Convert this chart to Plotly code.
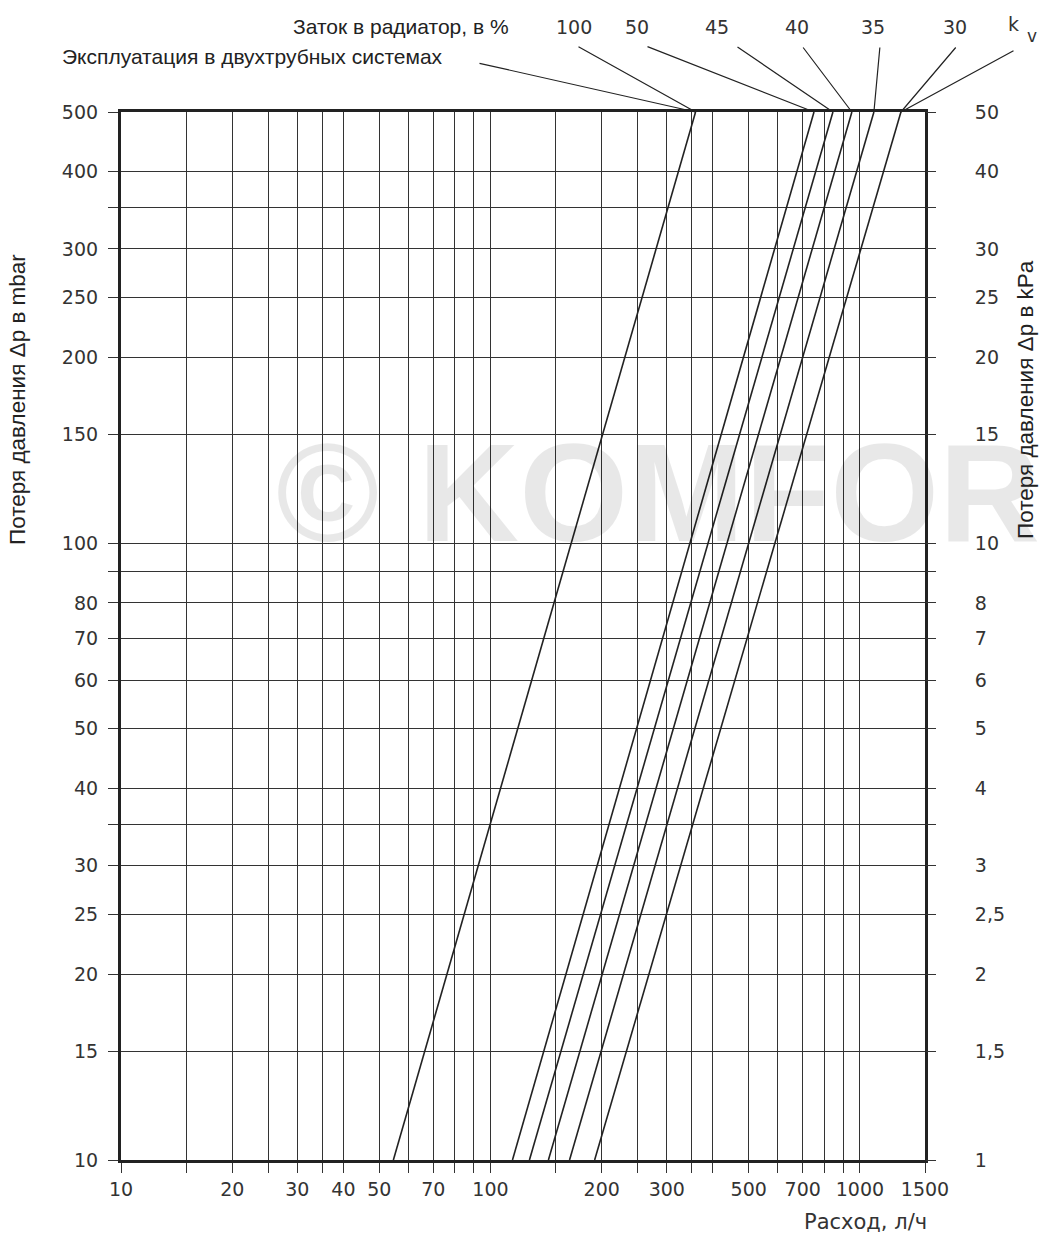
import numpy as np
import plotly.graph_objects as go

# ---- data ----
pressure_mbar = [10, 500]                      # line end points (Δp, mbar)
series_names = ["100", "50", "45", "40", "35", "30 / kv"]
flow_at_10 = [54.6, 114.7, 127.5, 143.5, 163.7, 191.4]     # l/h at 10 mbar
flow_at_500 = [359, 751, 845, 951, 1091, 1291]             # l/h at 500 mbar

x_grid = [10, 15, 20, 25, 30, 35, 40, 50, 60, 70, 80, 90, 100, 150, 200, 250,
          300, 350, 400, 500, 600, 700, 800, 900, 1000, 1500]
x_labels = ["10", "", "20", "", "30", "", "40", "50", "", "70", "", "", "100",
            "", "200", "", "300", "", "", "500", "", "700", "", "", "1000", "1500"]
y_grid = [10, 15, 20, 25, 30, 35, 40, 50, 60, 70, 80, 90, 100, 150, 200, 250,
          300, 350, 400, 500]
y_labels_mbar = ["10", "15", "20", "25", "30", "", "40", "50", "60", "70", "80",
                 "", "100", "150", "200", "250", "300", "", "400", "500"]
y_labels_kpa = ["1", "1,5", "2", "2,5", "3", "", "4", "5", "6", "7", "8",
                "", "10", "15", "20", "25", "30", "", "40", "50"]

top_labels = ["100", "50", "45", "40", "35", "30"]

W, H = 1041, 1233
L, R, T, B = 121, 925, 112, 1160
PW, PH = R - L, B - T


def px(x):
    return (x - L) / PW


def py(y):
    return (B - y) / PH


INK = "#222222"
GRID = "#333333"
TICKFONT = dict(family="DejaVu Sans", size=19, color="#333333")

fig = go.Figure()

# watermark
fig.add_annotation(text="<b>© KOMFORT</b>", xref="paper", yref="paper", x=px(274), y=py(492),
                   xanchor="left", yanchor="middle", showarrow=False,
                   font=dict(family="Liberation Sans", size=140, color="rgba(0,0,0,0.09)"))

for i, name in enumerate(series_names):
    fig.add_trace(go.Scatter(x=[flow_at_10[i], flow_at_500[i]], y=pressure_mbar,
                             mode="lines", name=name,
                             line=dict(color=INK, width=1.6), showlegend=False,
                             hoverinfo="skip"))

# invisible trace for the right axis
fig.add_trace(go.Scatter(x=[10, 1500], y=[10, 500], yaxis="y2", mode="lines",
                         line=dict(width=0), showlegend=False, hoverinfo="skip"))

fig.update_layout(
    width=W, height=H,
    margin=dict(l=L, r=W - R, t=T, b=H - B),
    plot_bgcolor="white", paper_bgcolor="white",
    xaxis=dict(type="log", range=[1, np.log10(1500)], tickvals=x_grid, ticktext=x_labels,
               showgrid=True, gridcolor=GRID, gridwidth=1.3,
               ticks="outside", ticklen=10, tickwidth=1.3, tickcolor=GRID,
               showline=True, linecolor=INK, linewidth=3.2, mirror=True,
               tickfont=TICKFONT, ticklabelstandoff=0, fixedrange=True),
    yaxis=dict(type="log", range=[1, np.log10(500)], tickvals=y_grid, ticktext=y_labels_mbar,
               showgrid=True, gridcolor=GRID, gridwidth=1.3,
               ticks="outside", ticklen=10, tickwidth=1.3, tickcolor=GRID,
               showline=True, linecolor=INK, linewidth=3.2, mirror=True,
               tickfont=TICKFONT, ticklabelstandoff=6, fixedrange=True),
    yaxis2=dict(type="log", range=[1, np.log10(500)], overlaying="y", side="right",
                tickvals=y_grid, ticktext=y_labels_kpa, showgrid=False,
                ticks="outside", ticklen=10, tickwidth=1.3, tickcolor=GRID,
                showline=False, tickfont=TICKFONT, ticklabelstandoff=35,
                fixedrange=True),
)

# axis titles
TITLEFONT = dict(family="Liberation Sans", size=22.5, color=INK)
fig.add_annotation(text="Потеря давления Δp в mbar", xref="paper", yref="paper",
                   x=px(17), y=py(400), textangle=-90, showarrow=False,
                   xanchor="center", yanchor="middle", font=TITLEFONT)
fig.add_annotation(text="Потеря давления Δp в kPa", xref="paper", yref="paper",
                   x=px(1025), y=py(400), textangle=-90, showarrow=False,
                   xanchor="center", yanchor="middle", font=TITLEFONT)
fig.add_annotation(text="Расход, л/ч", xref="paper", yref="paper",
                   x=px(865), y=py(1222), showarrow=False,
                   xanchor="center", yanchor="middle",
                   font=dict(family="DejaVu Sans", size=21, color="#333333"))

# top labels
TOPFONT = dict(family="Liberation Sans", size=21, color=INK)
fig.add_annotation(text="Заток в радиатор, в %", xref="paper", yref="paper",
                   x=px(511), y=py(27), showarrow=False, xanchor="right", yanchor="middle",
                   font=TOPFONT)
fig.add_annotation(text="Эксплуатация в двухтрубных системах", xref="paper", yref="paper",
                   x=px(60), y=py(57), showarrow=False, xanchor="left", yanchor="middle",
                   font=TOPFONT)

label_px = [574, 637, 717, 797, 873, 955]
for t, xp in zip(top_labels, label_px):
    fig.add_annotation(text=t, xref="paper", yref="paper", x=px(xp), y=py(27),
                       showarrow=False, xanchor="center", yanchor="middle",
                       font=dict(family="DejaVu Sans", size=19, color="#333333"))
fig.add_annotation(text="k", xref="paper", yref="paper", x=px(1013), y=py(24),
                   showarrow=False, xanchor="center", yanchor="middle",
                   font=dict(family="DejaVu Sans", size=19, color="#333333"))
fig.add_annotation(text="v", xref="paper", yref="paper", x=px(1032), y=py(36),
                   showarrow=False, xanchor="center", yanchor="middle",
                   font=dict(family="DejaVu Sans", size=17, color="#333333"))

# leader lines: (series index, leader start px)
leaders = [(0, (478, 63)), (0, (577, 46)), (1, (646, 46)), (2, (736, 46)),
           (3, (802, 46)), (4, (880, 46)), (5, (957, 46)), (5, (1015, 50))]
for idx, (sx, sy) in leaders:
    xv = flow_at_500[idx]
    tx = L + PW * np.log10(xv / 10) / np.log10(150)
    fig.add_annotation(x=np.log10(xv), y=np.log10(500), xref="x", yref="y", text="",
                       showarrow=True, arrowhead=0, arrowwidth=1.2, arrowcolor=INK,
                       ax=sx - tx, ay=sy - T, standoff=0, startstandoff=0)

fig.write_html("out.html", config={"displayModeBar": False},
               post_script="document.body.style.margin='0';document.body.style.overflow='hidden';")
